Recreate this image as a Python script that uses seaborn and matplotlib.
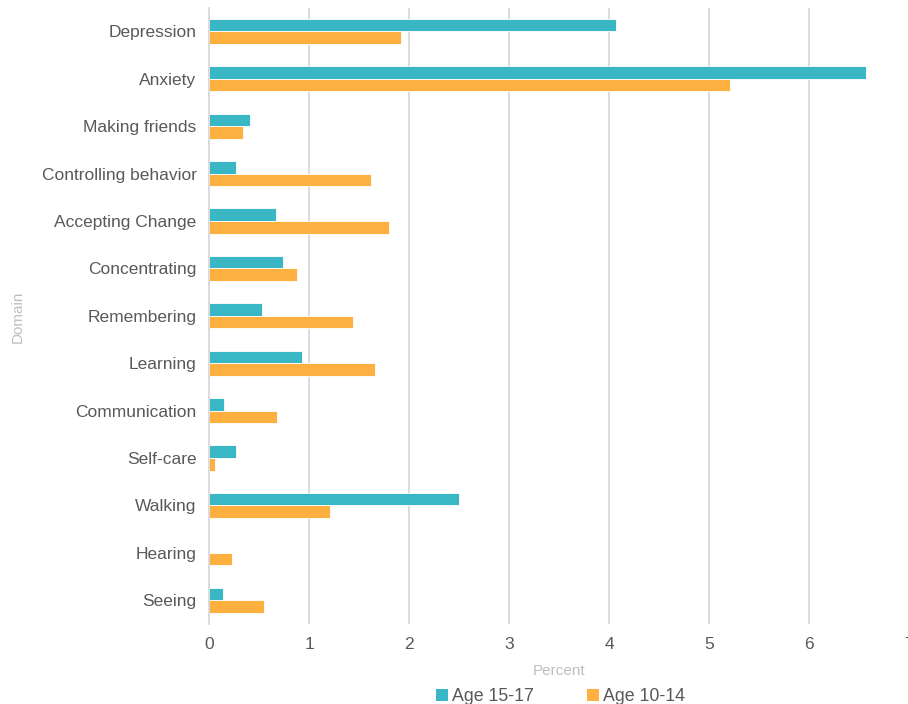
import matplotlib
matplotlib.use("Agg")
import matplotlib.pyplot as plt
from matplotlib.patches import Patch
import pandas as pd
import seaborn as sns

domains = ["Depression", "Anxiety", "Making friends", "Controlling behavior",
           "Accepting Change", "Concentrating", "Remembering", "Learning",
           "Communication", "Self-care", "Walking", "Hearing", "Seeing"]
age_15_17 = [4.07, 6.57, 0.41, 0.27, 0.67, 0.74, 0.53, 0.93, 0.15, 0.27, 2.50, 0.0, 0.14]
age_10_14 = [1.92, 5.21, 0.34, 1.62, 1.80, 0.88, 1.44, 1.66, 0.68, 0.06, 1.21, 0.23, 0.55]
groups = ["Age 15-17", "Age 10-14"]
colors = ["#3AB7C5", "#FDAF40"]
x_ticks = [0, 1, 2, 3, 4, 5, 6, 7]

df = pd.DataFrame({
    "Domain": domains * 2,
    "Percent": age_15_17 + age_10_14,
    "Age": [groups[0]] * len(domains) + [groups[1]] * len(domains),
})

sns.set_style("white")
plt.rcParams["font.family"] = ["Liberation Sans", "DejaVu Sans"]

fig = plt.figure(figsize=(9.08, 7.04), dpi=100)
ax = fig.add_axes([0.2302, 0.1136, 0.771, 0.8757])

sns.barplot(data=df, y="Domain", x="Percent", hue="Age", order=domains,
            hue_order=groups, palette=colors, saturation=1, orient="h",
            width=0.53, edgecolor="white", linewidth=0.6, ax=ax, legend=False)

ax.set_xlim(0, 7)
ax.set_ylim(len(domains) - 0.5, -0.5)
ax.set_xticks(x_ticks)
ax.set_xticklabels([str(t) for t in x_ticks])
ax.xaxis.grid(True, color="#D9D9D9", linewidth=1.3)
ax.set_axisbelow(True)
for side in ["top", "right", "bottom"]:
    ax.spines[side].set_visible(False)
ax.spines["left"].set_color("#D9D9D9")
ax.spines["left"].set_linewidth(1.3)
ax.tick_params(axis="both", length=0, labelcolor="#595959", labelsize=12.5)
ax.tick_params(axis="y", pad=9)
ax.tick_params(axis="x", pad=9)

ax.set_xlabel("Percent", color="#BFBFBF", fontsize=11, labelpad=9)
ax.set_ylabel("")
fig.text(0.02, 0.55, "Domain", rotation=90, color="#BFBFBF", fontsize=11,
         ha="center", va="center")

handles = [Patch(facecolor=c, edgecolor="none") for c in colors]
fig.legend(handles, groups, loc="center", bbox_to_anchor=(0.617, 0.010),
           ncol=2, frameon=False, fontsize=12.8, handlelength=0.7,
           handleheight=0.7, handletextpad=0.2, columnspacing=3.0,
           labelcolor="#595959")

fig.savefig("out.png", dpi=100)
